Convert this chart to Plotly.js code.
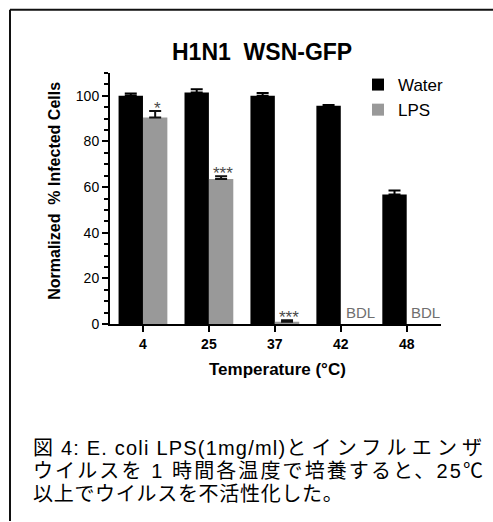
<!DOCTYPE html>
<html>
<head>
<meta charset="utf-8">
<script src="https://cdn.plot.ly/plotly-3.0.1.min.js"></script>
<style>
html,body{margin:0;padding:0;background:#fff;}
#chart{width:493px;height:522px;}
</style>
</head>
<body>
<div id="chart"></div>
<script>
// ---- data ----
const temperatures = ['4', '25', '37', '42', '48'];
const waterValues = [100, 101.4, 100, 95.6, 56.8];
const waterErrors = [1.0, 1.5, 1.2, 0.4, 1.7];
const lpsValues = [90.5, 63.5, 1.0, 0, 0];
const lpsErrors = [2.8, 1.2, 0.6, null, null];
const lpsMarks = ['*', '***', '***', 'BDL', 'BDL'];
const seriesNames = ['Water', 'LPS'];
const chartTitle = 'H1N1\u00A0\u00A0WSN-GFP';
const yTitle = 'Normalized\u00A0\u00A0% Infected Cells';
const xTitle = 'Temperature (°C)';
const captionParts = [
  [['図 4: E. coli LPS(1mg/ml)', 1.2], ['とインフルエンザ', 5.2]],
  [['ウイルスを 1 時間各温度で培養すると、25℃', 2.1]],
  [['以上でウイルスを不活性化した。', 0.7]]
];

// ---- layout geometry ----
const W = 493, H = 522;
const M = {l: 110, r: 52, t: 73, b: 197.5};
const plotW = W - M.l - M.r, plotH = H - M.t - M.b;
const px2x = p => (p - M.l) / plotW;
const py2y = p => (H - M.b - p) / plotH;
const bargap = 0.26;
const lpsShift = plotW / temperatures.length * (1 - bargap) / 4;

const font = 'Arial, "Liberation Sans", sans-serif';
const capFont = '"Liberation Sans", Arial, "Noto Sans CJK JP", sans-serif';
const nanify = a => a.map(v => (v === null ? NaN : v));

const traces = [
  {
    type: 'bar', name: seriesNames[0], x: temperatures, y: waterValues,
    marker: {color: '#000000', line: {width: 0}},
    error_y: {type: 'data', symmetric: false, array: nanify(waterErrors),
              arrayminus: waterErrors.map(() => 0), color: '#000', thickness: 2, width: 6}
  },
  {
    type: 'bar', name: seriesNames[1], x: temperatures, y: lpsValues,
    marker: {color: '#999999', line: {width: 0}},
    error_y: {type: 'data', symmetric: false, array: nanify(lpsErrors),
              arrayminus: lpsErrors.map(e => (e === null ? NaN : 0)), color: '#111', thickness: 2, width: 6}
  }
];

const annotations = [];
lpsMarks.forEach((m, i) => {
  if (m === 'BDL') {
    annotations.push({x: i, y: 0, xref: 'x', yref: 'y', text: m,
      showarrow: false, xanchor: 'center', yanchor: 'bottom', xshift: lpsShift + 7, yshift: 1,
      font: {family: font, size: 15, color: '#6f6f6f'}});
  } else {
    annotations.push({x: i, y: lpsValues[i] + (lpsErrors[i] || 0), xref: 'x', yref: 'y', text: m,
      showarrow: false, xanchor: 'center', yanchor: 'bottom', xshift: lpsShift + 2, yshift: -9,
      font: {family: font, size: 17, color: '#4a4a4a'}});
  }
});
const capY = [449, 472, 495];
captionParts.forEach((parts, i) => {
  const txt = parts.map(p => p[1] ? '<span style="letter-spacing:' + p[1] + 'px">' + p[0] + '</span>' : p[0]).join('');
  annotations.push({x: px2x(31), y: py2y(capY[i]), xref: 'paper', yref: 'paper', text: txt,
    showarrow: false, xanchor: 'left', yanchor: 'middle',
    font: {family: capFont, size: 20, color: '#000'}});
});
// title
annotations.push({x: px2x(262), y: py2y(52), xref: 'paper', yref: 'paper', text: '<b>' + chartTitle + '</b>',
  showarrow: false, xanchor: 'center', yanchor: 'middle', font: {family: font, size: 23, color: '#000'}});
// y title
annotations.push({x: px2x(55), y: py2y(191), xref: 'paper', yref: 'paper', text: '<b>' + yTitle + '</b>',
  showarrow: false, textangle: -90, xanchor: 'center', yanchor: 'middle', font: {family: font, size: 16, color: '#000'}});
// x title
annotations.push({x: px2x(277), y: py2y(370), xref: 'paper', yref: 'paper', text: '<b>' + xTitle + '</b>',
  showarrow: false, xanchor: 'center', yanchor: 'middle', font: {family: font, size: 17, color: '#000'}});

const shapes = [
  {type: 'line', xref: 'paper', yref: 'paper', x0: px2x(10), x1: px2x(493), y0: py2y(9.5), y1: py2y(9.5),
   line: {color: '#111', width: 2}},
  {type: 'line', xref: 'paper', yref: 'paper', x0: px2x(10), x1: px2x(10), y0: py2y(9.5), y1: py2y(522),
   line: {color: '#111', width: 2}}
];

const layout = {
  width: W, height: H,
  margin: M,
  paper_bgcolor: '#fff', plot_bgcolor: '#fff',
  showlegend: true,
  legend: {x: px2x(358), y: py2y(67), xanchor: 'left', yanchor: 'top', bgcolor: 'rgba(0,0,0,0)',
           font: {family: font, size: 17, color: '#000'}, tracegroupgap: 0},
  barmode: 'group', bargap: bargap, bargroupgap: 0,
  xaxis: {type: 'category', categoryorder: 'array', categoryarray: temperatures,
          showline: true, linecolor: '#000', linewidth: 2, ticks: 'outside', ticklen: 6, tickwidth: 2,
          tickcolor: '#000', showgrid: false, zeroline: false, range: [-0.5, 4.52],
          tickfont: {family: font, size: 14, color: '#000'}, tickprefix: '<b>', ticksuffix: '</b>'},
  yaxis: {range: [0, 110], tickvals: [0, 20, 40, 60, 80, 100], showline: true, linecolor: '#000', linewidth: 2,
          ticks: 'outside', ticklen: 6, tickwidth: 2, tickcolor: '#000', showgrid: false, zeroline: false,
          tickfont: {family: font, size: 14, color: '#000'}, tickprefix: '<b>', ticksuffix: '</b>',
          minor: {dtick: 5, tick0: 0, ticks: 'outside', ticklen: 4, tickwidth: 2, tickcolor: '#000', showgrid: false}},
  annotations: annotations,
  shapes: shapes,
  font: {family: font}
};

Plotly.newPlot('chart', traces, layout, {displayModeBar: false, staticPlot: true});
</script>
</body>
</html>
